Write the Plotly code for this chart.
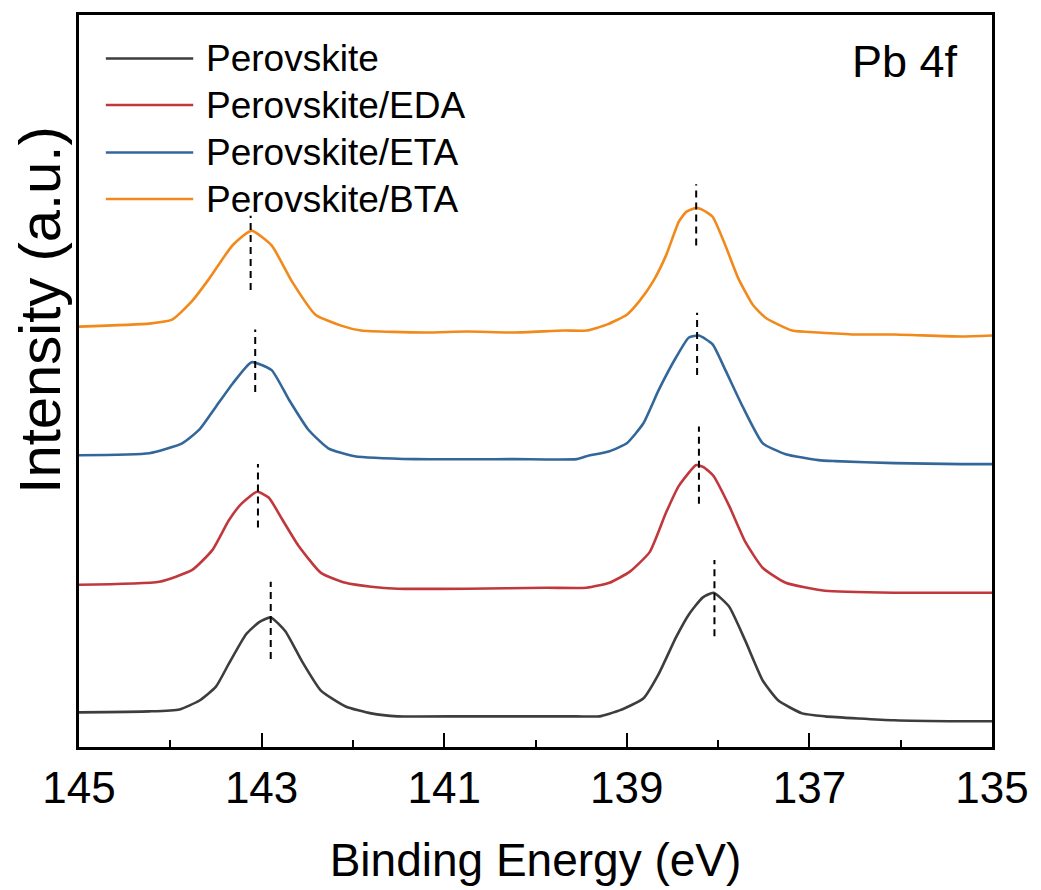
import plotly.graph_objects as go

# ---------------- data (binding energy in eV, intensity in a.u.) ----------------
E_perovskite = [145.0, 144.23, 143.90, 143.68, 143.50, 143.36, 143.17, 143.03, 142.90, 142.74,
                142.56, 142.35, 142.08, 141.80, 141.51, 140.75, 139.55, 139.30, 139.08, 138.82,
                138.65, 138.46, 138.32, 138.17, 138.05, 137.88, 137.70, 137.51, 137.34, 137.08,
                136.83, 136.07, 135.34, 135.0]
I_perovskite = [35, 36, 38, 47, 61, 84, 114, 126, 131, 117,
                87, 57, 41, 34, 31, 31, 31, 31, 37, 49,
                74, 111, 134, 151, 156, 142, 107, 67, 47, 34,
                31, 27, 26, 26]

E_eda = [145.0, 144.12, 143.76, 143.54, 143.36, 143.22, 143.05, 142.92, 142.78, 142.60,
         142.35, 142.08, 141.80, 141.51, 140.75, 139.88, 139.44, 139.19, 138.97, 138.75,
         138.57, 138.43, 138.24, 138.16, 138.05, 137.88, 137.70, 137.51, 137.26, 136.83,
         136.07, 135.34, 135.0]
I_eda = [164, 167, 179, 199, 229, 246, 258, 252, 231, 204,
         176, 166, 162, 160, 160, 161, 161, 166, 177, 197,
         237, 264, 285, 283, 274, 244, 207, 181, 166, 158,
         156, 156, 156]

E_eta = [145.0, 144.23, 143.87, 143.68, 143.50, 143.32, 143.11, 142.89, 142.70, 142.49,
         142.27, 141.98, 141.32, 140.23, 139.55, 139.44, 139.19, 139.00, 138.82, 138.65,
         138.46, 138.32, 138.21, 138.06, 137.92, 137.73, 137.51, 137.26, 136.90, 136.72,
         136.07, 135.34, 135.0]
I_eta = [295, 297, 307, 321, 344, 367, 389, 381, 351, 321,
         302, 294, 291, 291, 291, 294, 299, 307, 327, 361,
         394, 414, 416, 407, 381, 344, 307, 296, 290, 289,
         287, 286, 286]

E_bta = [145.0, 144.23, 143.98, 143.76, 143.57, 143.32, 143.11, 142.89, 142.67, 142.41,
         142.13, 141.91, 141.21, 140.75, 140.23, 139.69, 139.44, 139.22, 139.00, 138.86,
         138.71, 138.57, 138.43, 138.35, 138.24, 138.17, 138.06, 137.92, 137.78, 137.62,
         137.48, 137.19, 136.90, 136.50, 136.07, 135.34, 135.0]
I_bta = [425, 428, 432, 451, 474, 507, 522, 507, 471, 437,
         426, 421, 419, 420, 419, 421, 421, 427, 437, 451,
         471, 497, 531, 541, 545, 543, 536, 507, 474, 447,
         434, 421, 419, 417, 417, 415, 416]

series_names = ["Perovskite", "Perovskite/EDA", "Perovskite/ETA", "Perovskite/BTA"]
series_colors = ["#3d3d3d", "#c0383c", "#33679a", "#f2891b"]

# peak-position markers (energy, lower intensity, upper intensity)
peak_E = [143.12, 143.07, 143.04, 142.90, 138.24, 138.23, 138.21, 138.04]
peak_lo = [462, 359, 222, 89, 507, 376, 246, 112]
peak_hi = [537, 422, 286, 167, 569, 439, 324, 189]

x_ticks = [145, 143, 141, 139, 137, 135]
x_minor = [144, 142, 140, 138, 136]

FONT = "Arial, Liberation Sans, sans-serif"

fig = go.Figure()
series = [(E_perovskite, I_perovskite), (E_eda, I_eda), (E_eta, I_eta), (E_bta, I_bta)]
for (ex, iy), name, col in zip(series, series_names, series_colors):
    fig.add_trace(go.Scatter(x=ex, y=iy, mode="lines", name=name,
                             line=dict(color=col, width=2.6, shape="spline", smoothing=0.5),
                             showlegend=False))

for e, lo, hi in zip(peak_E, peak_lo, peak_hi):
    fig.add_trace(go.Scatter(x=[e, e], y=[lo, hi], mode="lines", showlegend=False,
                             hoverinfo="skip",
                             line=dict(color="black", width=2, dash="7px,5px")))

# manual legend (long line samples like the original)
leg_y = [0.9405, 0.877, 0.8122, 0.7486]
for name, col, yy in zip(series_names, series_colors, leg_y):
    fig.add_shape(type="line", xref="paper", yref="paper", x0=0.0294, x1=0.1251,
                  y0=yy, y1=yy, line=dict(color=col, width=2.6))
    fig.add_annotation(text=name, xref="paper", yref="paper", x=0.137, y=yy,
                       xanchor="left", yanchor="middle", showarrow=False,
                       font=dict(family=FONT, size=37, color="black"))

fig.add_annotation(text="Pb 4f", xref="paper", yref="paper", x=0.965, y=0.937,
                   xanchor="right", yanchor="middle", showarrow=False,
                   font=dict(family=FONT, size=45, color="black"))

fig.add_annotation(text="Intensity (a.u.)", xref="paper", yref="paper", x=-0.043, y=0.597,
                   xanchor="center", yanchor="middle", showarrow=False, textangle=-90,
                   font=dict(family=FONT, size=58, color="black"))

fig.update_layout(
    width=1041, height=890,
    margin=dict(l=79, r=43, t=14, b=136),
    paper_bgcolor="white", plot_bgcolor="white",
    font=dict(family=FONT, color="black"),
    xaxis=dict(range=[145, 135], tickvals=x_ticks, ticktext=[str(t) for t in x_ticks],
               ticks="inside", ticklen=14, tickwidth=2, tickcolor="black",
               minor=dict(tickvals=x_minor, ticks="inside", ticklen=7, tickwidth=2,
                          tickcolor="black"),
               showline=True, linecolor="black", linewidth=2.5, mirror=True,
               showgrid=False, zeroline=False,
               tickfont=dict(family=FONT, size=44, color="black"),
               title=dict(text="Binding Energy (eV)", standoff=34,
                          font=dict(family=FONT, size=46, color="black"))),
    yaxis=dict(range=[0, 740], showticklabels=False, ticks="",
               showline=True, linecolor="black", linewidth=2.5, mirror=True,
               showgrid=False, zeroline=False),
)

fig.write_html("out.html")
